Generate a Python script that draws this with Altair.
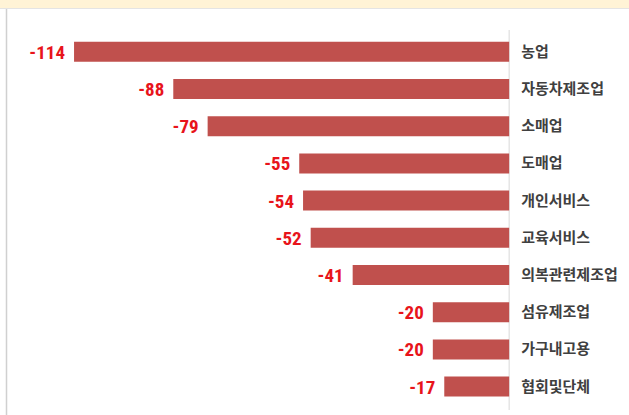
import altair as alt
import pandas as pd

categories = ["농업", "자동차제조업", "소매업", "도매업", "개인서비스", "교육서비스",
              "의복관련제조업", "섬유제조업", "가구내고용", "협회및단체"]
values = [-114, -88, -79, -55, -54, -52, -41, -20, -20, -17]

df = pd.DataFrame({
    "category": categories,
    "value": values,
    "idx": list(range(len(categories))),
    "label": [str(v) for v in values],
    "zero": [0] * len(values),
})

W, H = 629, 415
XMIN, XMAX = -133.4, 31.4
YMIN, YMAX = -1.2595, 9.630
xs = alt.Scale(domain=[XMIN, XMAX], nice=False, zero=False)
ys = alt.Scale(domain=[YMIN, YMAX], nice=False, zero=False, reverse=True)

def X(f):
    return alt.X(f, scale=xs, axis=None)

def Y(f):
    return alt.Y(f, scale=ys, axis=None)

base = alt.Chart(df)

bars = base.mark_bar(height=20, color="#C0504D").encode(
    x=X("value:Q"), x2="zero:Q", y=Y("idx:Q"),
)

vals = base.mark_text(align="right", baseline="middle", dx=-9, dy=1, fontSize=19,
                      fontWeight="bold", color="#E8141B",
                      font="Liberation Sans Narrow, Roboto Condensed, Noto Sans").encode(
    x=X("value:Q"), y=Y("idx:Q"), text="label:N",
)

cats = base.mark_text(align="left", baseline="middle", dx=12, fontSize=15,
                      fontWeight="bold", color="#404040",
                      font="Noto Sans CJK KR").encode(
    x=X("zero:Q"), y=Y("idx:Q"), text="category:N",
)

zero_line = alt.Chart(pd.DataFrame({"z": [0]})).mark_rule(color="#D9D9D9", strokeWidth=1).encode(
    x=X("z:Q"), y=alt.value(30), y2=alt.value(410),
)

deco = pd.DataFrame({"x0": [XMIN], "x1": [XMAX], "xl": [XMIN + 6.5 / 3.816]})

band = alt.Chart(deco).mark_rect(color="#FFF3D6").encode(
    x=X("x0:Q"), x2="x1:Q", y=alt.value(0), y2=alt.value(8),
)
band_line = alt.Chart(deco).mark_rule(color="#E4E4E4", strokeWidth=1).encode(
    x=X("x0:Q"), x2="x1:Q", y=alt.value(8.5),
)
left_line = alt.Chart(deco).mark_rule(color="#D0D0D0", strokeWidth=1.5).encode(
    x=X("xl:Q"), y=alt.value(9), y2=alt.value(H),
)

chart = alt.layer(band, band_line, left_line, zero_line, bars, vals, cats).properties(
    width=W, height=H, padding=0,
    autosize=alt.AutoSizeParams(type="none"),
    background="white",
).configure_view(stroke=None)

chart.save("out.html", embed_options={"renderer": "svg", "actions": False})
